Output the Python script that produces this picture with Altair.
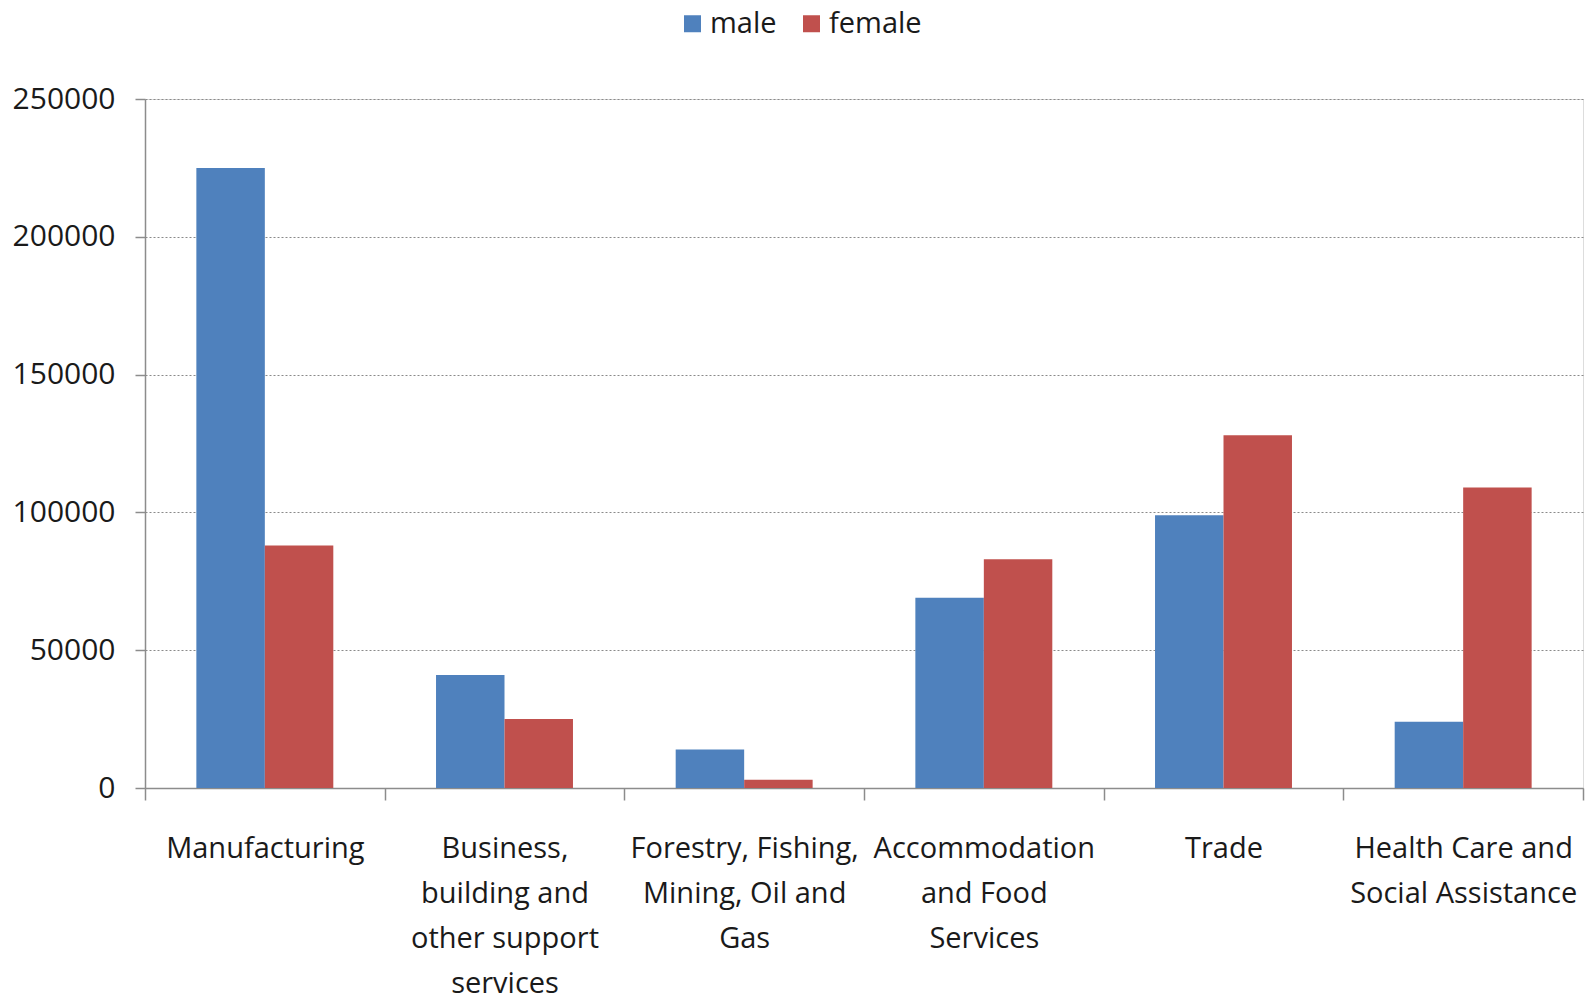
import altair as alt
import pandas as pd

categories = [
    "Manufacturing",
    "Business, building and other support services",
    "Forestry, Fishing, Mining, Oil and Gas",
    "Accommodation and Food Services",
    "Trade",
    "Health Care and Social Assistance",
]
label_lines = [
    ["Manufacturing"],
    ["Business,", "building and", "other support", "services"],
    ["Forestry, Fishing,", "Mining, Oil and", "Gas"],
    ["Accommodation", "and Food", "Services"],
    ["Trade"],
    ["Health Care and", "Social Assistance"],
]
series = ["male", "female"]
male = [225000, 41000, 14000, 69000, 99000, 24000]
female = [88000, 25000, 3000, 83000, 128000, 109000]
y_ticks = [0, 50000, 100000, 150000, 200000, 250000]
colors = ["#4F81BD", "#C0504D"]

rows = []
for c, m, f in zip(categories, male, female):
    rows.append({"category": c, "sex": "male", "value": m})
    rows.append({"category": c, "sex": "female", "value": f})
df = pd.DataFrame(rows)

# label expression: map category to list of lines
expr = "datum.label"
for c, lines in reversed(list(zip(categories, label_lines))):
    arr = "[" + ",".join("'" + s + "'" for s in lines) + "]"
    expr = f"datum.label == '{c}' ? {arr} : ({expr})"

FONT = "Open Sans"
TXT = "#1a1a1a"
AX = "#8c8c8c"

chart = alt.Chart(df).mark_bar().encode(
    x=alt.X(
        "category:N",
        sort=categories,
        scale=alt.Scale(paddingInner=0, paddingOuter=0),
        axis=alt.Axis(
            title=None,
            labelAngle=0,
            labelExpr=expr,
            labelFont=FONT,
            labelFontSize=29,
            labelColor=TXT,
            labelLineHeight=45,
            labelPadding=34,
            labelBaseline="top",
            tickBand="extent",
            tickSize=12,
            tickColor=AX,
            tickWidth=1.5,
            domainColor=AX,
            domainWidth=1.5,
            grid=False,
            labelLimit=400,
        ),
    ),
    xOffset=alt.XOffset(
        "sex:N", sort=series,
        scale=alt.Scale(paddingInner=0, paddingOuter=0.75),
    ),
    y=alt.Y(
        "value:Q",
        scale=alt.Scale(domain=[0, 250000], nice=False),
        axis=alt.Axis(
            title=None,
            values=y_ticks,
            format="d",
            labelFont=FONT,
            labelFontSize=30,
            labelColor=TXT,
            labelPadding=20,
            tickSize=10,
            tickColor=AX,
            tickWidth=1.5,
            domainColor=AX,
            domainWidth=1.5,
            grid=True,
            gridColor="#8a8a8a",
            gridDash=[2, 2],
            gridWidth=1,
        ),
    ),
    color=alt.Color(
        "sex:N",
        sort=series,
        scale=alt.Scale(domain=series, range=colors),
        legend=alt.Legend(
            title=None,
            orient="none",
            direction="horizontal",
            legendX=533,
            legendY=-90,
            symbolType="square",
            symbolSize=289,
            symbolStrokeWidth=0,
            labelFont=FONT,
            labelFontSize=29,
            labelColor=TXT,
            labelOffset=3,
            columnPadding=20,
        ),
    ),
).properties(
    width=1438,
    height=689,
    autosize=alt.AutoSizeParams(type="none"),
    padding={"left": 145, "top": 99, "right": 6, "bottom": 213},
).configure_view(stroke=None).configure(background="white")

chart.save("out.html", embed_options={"renderer": "svg", "actions": False})
